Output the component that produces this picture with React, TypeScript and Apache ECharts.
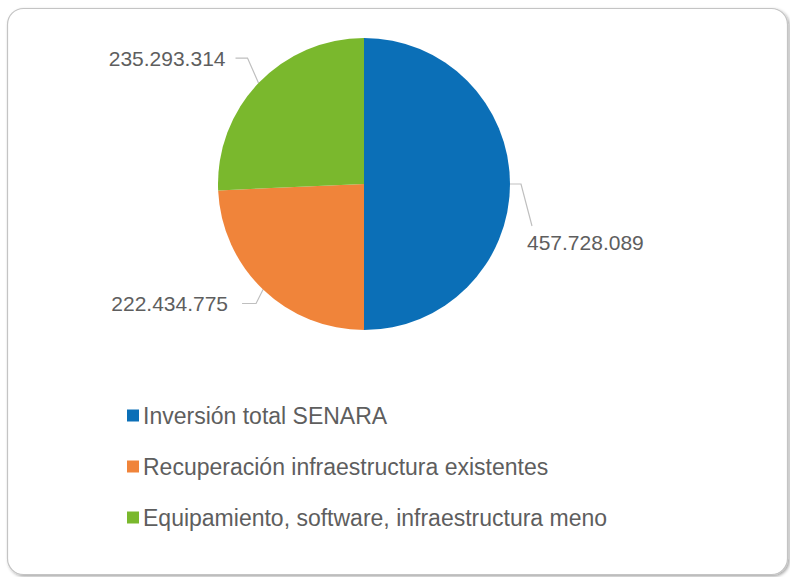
import React, { useEffect, useRef } from "react";
import * as echarts from "echarts";

const categories = [
  "Inversión total SENARA",
  "Recuperación infraestructura existentes",
  "Equipamiento, software, infraestructura meno",
];
const values = [457728089, 222434775, 235293314];
const colors = ["#0B6FB7", "#F0843A", "#7AB82D"];

// label placement relative to the slice edge point (style only)
const labelOffsets = [
  { line: [[11, 0], [22, 42]], label: [17, 58], align: "left" },
  { line: [[-7, 14], [-21, 14]], label: [-35, 14], align: "right" },
  { line: [[-11, -25], [-23, -25]], label: [-33, -25], align: "right" },
];

const fmt = (v: number) => String(Math.round(v)).replace(/\B(?=(\d{3})+(?!\d))/g, ".");

export default function App() {
  const ref = useRef<HTMLDivElement>(null);
  useEffect(() => {
    if (!ref.current) return;
    const chart = echarts.init(ref.current, undefined, { renderer: "svg" });
    chart.setOption({
      animation: false,
      backgroundColor: "#ffffff",
      graphic: [
        {
          type: "rect",
          z: -10,
          shape: { x: 7.5, y: 8.5, width: 780, height: 566, r: 16 },
          style: {
            fill: "#ffffff",
            stroke: "#C4C4C4",
            lineWidth: 1.2,
            shadowBlur: 3,
            shadowOffsetX: 1.5,
            shadowOffsetY: 1.5,
            shadowColor: "rgba(0,0,0,0.35)",
          },
        },
      ],
      legend: {
        orient: "vertical",
        left: 122,
        top: 399,
        itemWidth: 12,
        itemHeight: 12,
        itemGap: 28,
        icon: "rect",
        data: categories,
        textStyle: {
          fontFamily: "Liberation Sans, Arial, sans-serif",
          fontSize: 23,
          color: "#5E5E5E",
          padding: [0, 0, 0, -1],
        },
      },
      series: [
        {
          type: "pie",
          center: [364, 184],
          radius: 146,
          startAngle: 90,
          clockwise: true,
          data: categories.map((name, i) => ({
            name,
            value: values[i],
            itemStyle: { color: colors[i] },
          })),
          label: {
            show: true,
            position: "outside",
            formatter: (p: any) => fmt(p.value),
            fontFamily: "Liberation Sans, Arial, sans-serif",
            fontSize: 21,
            color: "#5E5E5E",
          },
          labelLine: {
            show: true,
            length: 10,
            length2: 10,
            lineStyle: { color: "#BFBFBF", width: 1.2 },
          },
          labelLayout: (params: any) => {
            const pts = params.labelLinePoints;
            const o = labelOffsets[params.dataIndex];
            if (!pts || !o) return {};
            const [x0, y0] = pts[0];
            return {
              x: x0 + o.label[0],
              y: y0 + o.label[1],
              align: o.align,
              verticalAlign: "middle",
              labelLinePoints: [
                [x0, y0],
                [x0 + o.line[0][0], y0 + o.line[0][1]],
                [x0 + o.line[1][0], y0 + o.line[1][1]],
              ],
            };
          },
        },
      ],
    });
    return () => chart.dispose();
  }, []);
  return (
    <div
      ref={ref}
      style={{ position: "fixed", left: 0, top: 0, width: 790, height: 577 }}
    />
  );
}
